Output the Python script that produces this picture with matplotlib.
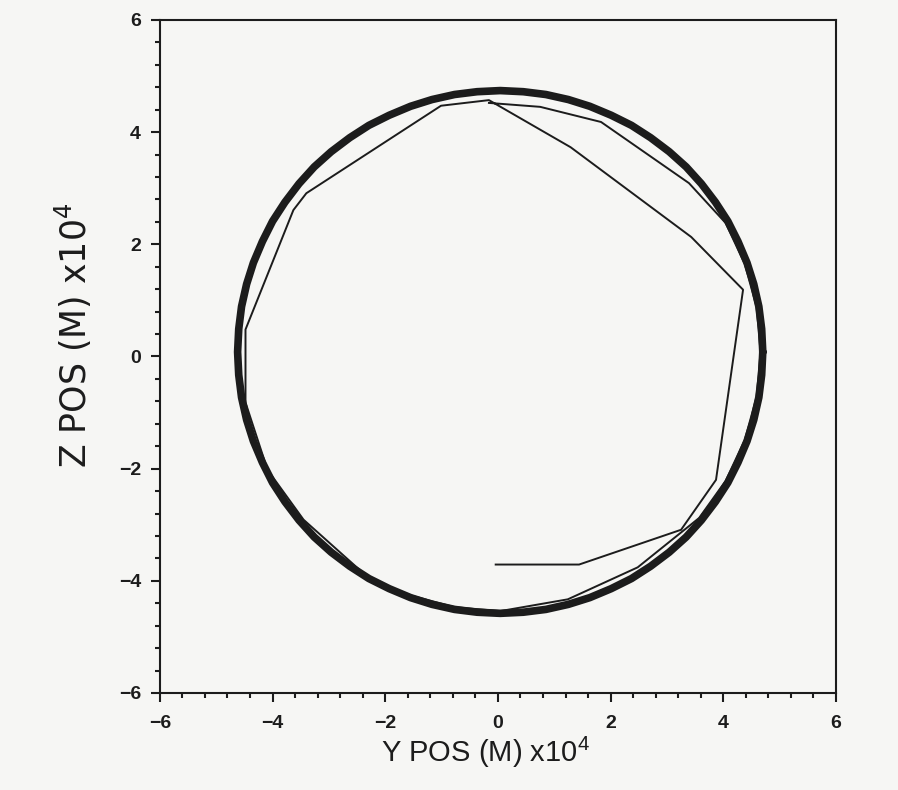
import matplotlib
matplotlib.use("Agg")
import matplotlib.pyplot as plt
from matplotlib.ticker import MultipleLocator

plt.rcParams['font.family'] = ['Liberation Sans', 'DejaVu Sans']
plt.rcParams['mathtext.default'] = 'regular'

# settled orbit, many overlapping loops (units of 1e4 m), read every 5 deg
ring_y = [4.70, 4.68, 4.63, 4.54, 4.42, 4.26, 4.08, 3.86, 3.61, 3.34,
          3.04, 2.71, 2.37, 2.01, 1.63, 1.25, 0.85, 0.45, 0.04,
          -0.37, -0.77, -1.17, -1.55, -1.93, -2.29, -2.63, -2.96, -3.26,
          -3.53, -3.78, -4.00, -4.18, -4.34, -4.46, -4.55, -4.60, -4.62,
          -4.60, -4.55, -4.46, -4.34, -4.18, -4.00, -3.78, -3.53, -3.26,
          -2.96, -2.63, -2.29, -1.93, -1.55, -1.17, -0.77, -0.37, 0.04,
          0.45, 0.85, 1.25, 1.63, 2.01, 2.37, 2.71, 3.04, 3.34,
          3.61, 3.86, 4.08, 4.26, 4.42, 4.54, 4.63, 4.68, 4.70]
ring_z = [0.08, 0.49, 0.89, 1.29, 1.67, 2.05, 2.41, 2.75, 3.08, 3.38,
          3.65, 3.90, 4.12, 4.30, 4.46, 4.58, 4.67, 4.72, 4.74,
          4.72, 4.67, 4.58, 4.46, 4.30, 4.12, 3.90, 3.65, 3.38,
          3.08, 2.75, 2.41, 2.05, 1.67, 1.29, 0.89, 0.49, 0.08,
          -0.33, -0.73, -1.13, -1.51, -1.89, -2.25, -2.59, -2.92, -3.22,
          -3.49, -3.74, -3.96, -4.14, -4.30, -4.42, -4.51, -4.56, -4.58,
          -4.56, -4.51, -4.42, -4.30, -4.14, -3.96, -3.74, -3.49, -3.22,
          -2.92, -2.59, -2.25, -1.89, -1.51, -1.13, -0.73, -0.33, 0.08]

# first coarse loops from the start point
path_y = [-0.04, 1.44, 3.25, 3.87, 4.35, 3.43, 1.29, -0.16,
          -1.01, -3.40, -3.63, -4.48, -4.48, -4.09, -3.45, -2.26,
          -1.55, -0.77, 0.04, 1.24, 2.48,
          3.57, 4.04, 4.38, 4.59, 4.66, 4.59, 4.38, 4.04,
          3.39, 1.83, 0.75, -0.16]
path_z = [-3.71, -3.71, -3.09, -2.20, 1.19, 2.13, 3.73, 4.57,
          4.47, 2.91, 2.61, 0.48, -0.82, -2.02, -2.91, -3.98,
          -4.26, -4.47, -4.54, -4.33, -3.76,
          -2.88, -2.22, -1.49, -0.72, 0.08, 0.88, 1.65, 2.38,
          3.09, 4.18, 4.45, 4.52]

ink = '#1c1c1c'
paper = '#f6f6f4'

fig = plt.figure(figsize=(8.98, 7.90), dpi=100, facecolor=paper)
ax = fig.add_axes([0.178, 0.1228, 0.753, 0.852], facecolor=paper)

ax.plot(ring_y, ring_z, color=ink, lw=5.5, solid_joinstyle='round',
        solid_capstyle='round')
ax.plot(path_y, path_z, color=ink, lw=1.4, solid_joinstyle='round')

ax.set_xlim(-6, 6)
ax.set_ylim(-6, 6)
ax.xaxis.set_major_locator(MultipleLocator(2))
ax.yaxis.set_major_locator(MultipleLocator(2))
ax.xaxis.set_minor_locator(MultipleLocator(0.4))
ax.yaxis.set_minor_locator(MultipleLocator(0.4))
ax.tick_params(which='both', direction='out', top=False, right=False,
               color=ink, width=1.5)
ax.tick_params(which='major', length=6.5, labelsize=14, labelcolor=ink)
ax.tick_params(axis='x', which='major', pad=9)
ax.tick_params(axis='y', which='major', pad=7)
ax.tick_params(which='minor', length=3.6)
for lab in ax.get_xticklabels() + ax.get_yticklabels():
    lab.set_fontweight('bold')
for sp in ax.spines.values():
    sp.set_linewidth(1.5)
    sp.set_color(ink)

ax.set_xlabel('Y POS (M) x10$^{4}$', fontsize=21, color=ink)
ax.set_ylabel('Z POS (M) x10$^{4}$', fontsize=25, color=ink,
              family=['DejaVu Sans'])
ax.xaxis.set_label_coords(0.482, -0.062)
ax.yaxis.set_label_coords(-0.097, 0.532)

fig.savefig('out.png', dpi=100, facecolor=paper)
